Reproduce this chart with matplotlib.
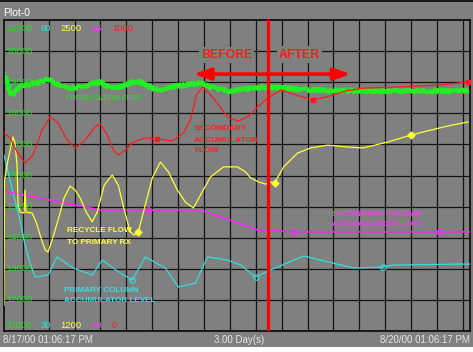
import numpy as np
import matplotlib
matplotlib.use("Agg")
import matplotlib.pyplot as plt
from matplotlib.patches import Rectangle

W, H = 473, 352

# ---------------- data (x = hours since 8/17/00 01:06:17 PM) ----------------
olefin_t = [0, 0.46, 1.08, 1.70, 2.48, 4.03, 5.57, 6.81, 8.21, 9.76, 11.77, 13.63, 14.87,
            16.41, 17.96, 19.51, 20.75, 22.14, 23.69, 25.71, 28.03, 30.35, 32.36, 34.69,
            37.32, 40.11, 42.74, 47.85, 55.59, 64.42, 72.0]
olefin_v = [19296, 19006, 18588, 18653, 18878, 18942, 19006, 19103, 18942, 18813, 18846,
            18942, 19006, 18813, 18846, 18974, 19039, 18878, 18749, 18846, 18910, 18974,
            18813, 18717, 18781, 18846, 18813, 18749, 18717, 18717, 18717]

sec_flow_t = [0, 0.93, 2.01, 3.25, 4.49, 5.88, 7.12, 8.36, 9.76, 10.99, 12.54, 14.09, 14.87,
              15.95, 16.88, 17.65, 18.74, 19.98, 21.83, 23.69, 26.01, 27.72, 28.80, 29.73,
              30.66, 31.90, 33.14, 34.69, 36.23, 37.78, 39.33, 40.73, 42.74, 45.06, 47.69,
              50.48, 52.80, 55.59, 61.32, 67.51, 71.70]
sec_flow_v = [637, 621, 576, 540, 566, 646, 688, 669, 614, 588, 614, 656, 666,
              630, 582, 566, 582, 608, 621, 617, 611, 637, 678, 759,
              785, 759, 727, 685, 675, 691, 723, 749, 775, 759, 743,
              756, 772, 781, 785, 791, 801]
sec_flow_marks = [19, 34, 40]

recycle_t = [0, 0.08, 0.62, 1.39, 1.70, 2.01, 2.17, 2.48, 3.10, 3.25, 3.41, 4.34, 4.96, 5.57,
             6.35, 6.81, 7.43, 8.36, 9.29, 10.22, 10.99, 11.77, 12.70, 13.63, 14.40, 15.49,
             16.72, 17.65, 18.58, 19.51, 20.13, 20.75, 21.83, 22.92, 24.16, 25.40, 26.79,
             28.03, 29.27, 30.35, 31.90, 33.91, 36.08, 37.32, 38.09, 39.33, 40.42, 41.19,
             41.81, 43.20, 45.37, 47.38, 50.02, 53.12, 55.44, 56.68, 59.31, 62.87, 65.97,
             68.60, 71.70]
recycle_v = [1309, 1831, 1915, 2011, 1986, 1894, 1727, 1697, 1693, 1789, 1697, 1693, 1656, 1601,
             1539, 1530, 1580, 1664, 1756, 1806, 1789, 1756, 1697, 1656, 1697, 1810,
             1852, 1810, 1706, 1614, 1601, 1614, 1727, 1840, 1906, 1865, 1789,
             1739, 1714, 1768, 1844, 1886, 1886, 1865, 1840, 1823, 1814, 1823,
             1819, 1886, 1944, 1965, 1977, 1969, 1965, 1973, 1990, 2019, 2040,
             2057, 2074]
recycle_marks = [31, 48, 57]

sec_level_t = [0, 7.12, 13.32, 14.87, 22.30, 30.35, 32.67, 35.77, 39.18, 44.75, 67.20, 72.0]
sec_level_v = [46.75, 46.32, 45.93, 45.84, 45.84, 45.84, 45.59, 45.26, 44.87, 44.78, 44.78, 44.78]
sec_level_marks = [4, 9, 10]

prim_level_t = [0, 1.39, 2.48, 3.25, 4.03, 4.80, 6.81, 8.21, 10.68, 13.63, 15.18, 17.96, 19.82,
                21.83, 24.93, 26.94, 29.58, 31.44, 34.53, 36.54, 38.87, 41.19, 46.30, 54.04,
                58.53, 60.24, 72.0]
prim_level_v = [58.30, 52.19, 47.85, 43.83, 40.93, 38.68, 39.00, 41.90, 40.13, 39.00, 41.41,
                39.32, 38.20, 41.90, 40.13, 37.07, 37.72, 41.90, 41.41, 40.61, 38.68, 39.81,
                42.06, 40.13, 40.29, 40.61, 40.77]
prim_level_marks = [12, 20, 24]

change_time = 40.73
arrow_span = (29.3, 53.6)
scale_top = ["21000", "80", "2500", "55", "1000"]
scale_bottom = ["11000", "30", "1200", "40", "0"]
left_ticks = [12000, 13000, 14000, 15000, 16000, 17000, 18000, 19000, 20000]
start_label = "8/17/00 01:06:17 PM"
end_label = "8/20/00 01:06:17 PM"
span_label = "3.00 Day(s)"

# ---------------- style ----------------
BG = "#808080"
GREEN, CYAN, YELLOW, MAGENTA, RED = "#22ee22", "#33dddd", "#ffff33", "#ff22ff", "#ff1a1a"
GREEN_T, CYAN_T, YELLOW_T, MAGENTA_T, RED_T = "#22dd22", "#33e0e0", "#ffff40", "#ff33ff", "#ff2020"
FONT = "Liberation Sans"

fig = plt.figure(figsize=(W / 100, H / 100), dpi=100, facecolor=BG)
fig.patches.append(Rectangle((0, 0), 1, 5 / H, transform=fig.transFigure,
                             facecolor="white", edgecolor="none", zorder=0))
fig.patches.append(Rectangle((0, 1 - 2 / H), 1, 2 / H, transform=fig.transFigure,
                             facecolor="#1a1a1a", edgecolor="none", zorder=0))

L, R, T, B = 4, 470, 20, 331
rect = [L / W, 1 - B / H, (R - L) / W, (B - T) / H]
ax = fig.add_axes(rect)
ax.set_facecolor(BG)
ax.set_xlim(0, 72)
ax.set_ylim(11000, 21000)
ax.set_xticks(np.arange(2.8953, 72, 4))
ax.set_yticks(left_ticks)
ax.tick_params(length=0, labelbottom=False, labelleft=False)
ax.grid(True, color="#141414", lw=0.9)
ax.set_axisbelow(True)
for s in ax.spines.values():
    s.set_color("#101010")
    s.set_linewidth(1.3)

line_g, = ax.plot(olefin_t, olefin_v, color=GREEN, lw=2.6, solid_joinstyle="round")
line_g.set_sketch_params(scale=1.6, length=2.5, randomness=3)


def twin(lo, hi):
    a = ax.twinx()
    a.set_ylim(lo, hi)
    a.set_xlim(0, 72)
    a.tick_params(right=False, labelright=False, length=0)
    for s in a.spines.values():
        s.set_visible(False)
    return a


ax_c = twin(30, 80)
ax_c.plot(prim_level_t, prim_level_v, color=CYAN, lw=0.9, marker="o", ms=4, mfc="none",
          mec=CYAN, mew=0.8, markevery=prim_level_marks)
ax_m = twin(40, 55)
ax_m.plot(sec_level_t, sec_level_v, color=MAGENTA, lw=1.1, marker="d", ms=4.5, mfc="none",
          mec=MAGENTA, mew=0.8, markevery=sec_level_marks)
ax_y = twin(1200, 2500)
ax_y.plot(recycle_t, recycle_v, color=YELLOW, lw=0.9, marker="D", ms=3.5, mfc=YELLOW,
          mec=YELLOW, markevery=recycle_marks)
ax_r = twin(0, 1000)
ax_r.plot(sec_flow_t, sec_flow_v, color=RED, lw=0.9, marker="s", ms=3.2, mfc=RED, mec=RED,
          markevery=sec_flow_marks)
ax_r.axvline(change_time, color="#ff0000", lw=2.3)
ax_r.annotate("", xy=(arrow_span[0], 0.826), xytext=(arrow_span[1], 0.826),
              xycoords=ax_r.get_xaxis_transform(), textcoords=ax_r.get_xaxis_transform(),
              arrowprops=dict(arrowstyle="<|-|>,head_length=1.0,head_width=0.35",
                              lw=2.6, color="#ff0000", shrinkA=0, shrinkB=0))

# left value labels at grid lines
for v in left_ticks:
    ax.text(0.005, v, f"{v}", transform=ax.get_yaxis_transform(), color=GREEN_T,
            fontsize=6.8, family=FONT, ha="left", va="center")


def ptxt(x, y, s, color, size, weight="normal", ha="left", va="center", **kw):
    fig.text(x / W, 1 - y / H, s, color=color, fontsize=size, fontweight=weight,
             family=FONT, ha=ha, va=va, **kw)


cols = [GREEN_T, CYAN_T, YELLOW_T, MAGENTA_T, RED_T]
xs = [6, 41, 60, 92, 112]
for s, c, x in zip(scale_top, cols, xs):
    ptxt(x, 28.5, s, c, 6.8)
for s, c, x in zip(scale_bottom, cols, xs):
    ptxt(x, 325, s, c, 6.8)

ptxt(3, 13.5, "Plot-0", "white", 7.5)
ptxt(3, 340, start_label, "#e6e6e6", 7)
ptxt(239, 340, span_label, "#e6e6e6", 7, ha="center")
ptxt(470, 340, end_label, "#e6e6e6", 7, ha="right")

bb = dict(facecolor=BG, edgecolor="none", pad=1.5)
ptxt(201, 55, "BEFORE", "#ff1a1a", 8.8, "bold", bbox=bb)
ptxt(279, 54.5, "AFTER", "#ff1a1a", 8.8, "bold", bbox=bb)

ptxt(66, 99, "FRESH OLEFIN FEED", GREEN_T, 5.3, "bold")
ptxt(194, 129, "SECONDARY", RED_T, 6.0, "bold")
ptxt(194, 140, "ACCUMULATOR", RED_T, 6.0, "bold")
ptxt(194, 151, "FLOW", RED_T, 6.0, "bold")
ptxt(67, 231, "RECYCLE FLOW", YELLOW_T, 5.9, "bold")
ptxt(67, 243, "TO PRIMARY RX", YELLOW_T, 5.9, "bold")
ptxt(332, 214, "SECONDARY COLUMN", MAGENTA_T, 5.9, "bold")
ptxt(332, 225, "ACCUMULATOR LEVEL", MAGENTA_T, 5.9, "bold")
ptxt(64, 290, "PRIMARY COLUMN", CYAN_T, 5.9, "bold")
ptxt(64, 301, "ACCUMULATOR LEVEL", CYAN_T, 5.9, "bold")

fig.savefig("out.png", dpi=100, facecolor=BG)
